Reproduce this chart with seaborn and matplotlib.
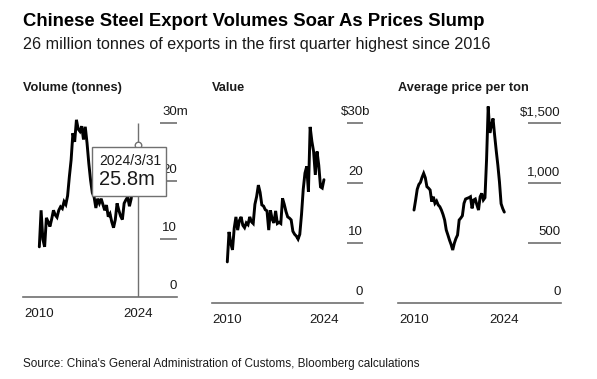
"""
Chinese steel exports - volume, value and average price per ton (quarterly).
"""
import matplotlib
matplotlib.use("Agg")
import matplotlib.pyplot as plt
import matplotlib.transforms as mtransforms
from matplotlib.patches import Rectangle
import pandas as pd
import seaborn as sns

# ── Data (quarterly 2010Q1 - 2024Q1) ─────────────────────────────────
QUARTERS = pd.period_range("2010Q1", "2024Q1", freq="Q")

VOLUME_M = [
    8.7, 15.0, 10.0, 8.7, 13.7, 13.0, 12.2, 13.5, 15.0, 14.2,
    13.8, 15.0, 15.6, 15.3, 16.5, 16.0, 17.5, 20.8, 23.7, 28.3,
    26.8, 30.6, 29.0, 28.6, 29.5, 27.2, 29.4, 26.6, 23.1, 20.2,
    18.0, 17.3, 15.4, 17.0, 16.2, 17.0, 16.0, 15.0, 15.9, 13.9,
    14.4, 13.0, 12.0, 13.4, 16.2, 15.0, 14.0, 13.4, 16.2, 16.8,
    17.3, 15.7, 17.0, 20.3, 23.8, 24.3, 25.8,
]

VALUE_B = [
    6.9, 11.9, 10.0, 8.9, 12.5, 14.4, 12.2, 13.8, 14.4, 13.0,
    12.6, 13.4, 13.1, 14.4, 13.6, 13.3, 16.5, 17.8, 19.7, 18.5,
    16.4, 16.2, 15.6, 15.4, 12.2, 15.5, 14.0, 13.4, 15.4, 13.3,
    13.5, 13.3, 17.5, 16.5, 15.3, 14.4, 14.2, 13.9, 12.0, 11.5,
    11.2, 10.7, 11.5, 14.8, 19.0, 21.7, 22.8, 18.6, 29.4, 27.0,
    25.3, 21.4, 25.3, 23.0, 19.4, 19.2, 20.6,
]

PRICE_USD = [
    777, 860, 950, 990, 1008, 1050, 1083, 1047, 972, 960,
    944, 847, 888, 833, 852, 820, 805, 777, 740, 694,
    611, 570, 527, 490, 444, 500, 540, 569, 694, 710,
    730, 833, 869, 875, 880, 888, 791, 861, 869, 820,
    777, 888, 916, 861, 880, 1200, 1640, 1420, 1480, 1540,
    1400, 1270, 1150, 1010, 830, 790, 760,
]

PANEL_TITLES = ["Volume (tonnes)", "Value", "Average price per ton"]
Y_TICKS = [[0, 10, 20, 30], [0, 10, 20, 30], [0, 500, 1000, 1500]]
Y_LABELS = [["0", "10", "20", "30m"], ["0", "10", "20", "$30b"],
            ["0", "500", "1,000", "$1,500"]]
X_TICKS = [2010, 2024]

TITLE = "Chinese Steel Export Volumes Soar As Prices Slump"
SUBTITLE = "26 million tonnes of exports in the first quarter highest since 2016"
SOURCE = "Source: China's General Administration of Customs, Bloomberg calculations"

# ── Layout (pixels of the 597x379 canvas) ──────────────────────────
W, H = 597, 379
GREY = "#707070"
TEXT = "#1a1a1a"

# left, right, bottom, top, ylim, xlim, tick-line start (axes frac),
# overhang of the unit suffix past the axis end (points)
PANELS = [
    (23, 177, 297.3, 111.7, (0, 32), (2007.69, 2029.48), 0.89, 7.9),
    (211.7, 363.3, 303.3, 111.3, (0, 32), (2007.74, 2029.70), 0.89, 5.3),
    (398, 560.7, 303.3, 99.3, (0, 1700), (2007.52, 2032.74), 0.797, 0),
]

sns.set_style("white")
plt.rcParams["font.family"] = ["Liberation Sans", "DejaVu Sans"]

df = pd.DataFrame({
    "year": [q.year + (q.quarter - 1) / 4 for q in QUARTERS],
    "volume": VOLUME_M,
    "value": VALUE_B,
    "price": PRICE_USD,
})
columns = ["volume", "value", "price"]

fig = plt.figure(figsize=(W / 100, H / 100), dpi=100)

axes = []
for i, (left, right, bottom, top, ylim, xlim, tick_x0, overhang) in enumerate(PANELS):
    ax = fig.add_axes([left / W, 1 - bottom / H, (right - left) / W, (bottom - top) / H])
    ax.patch.set_alpha(0)
    sns.lineplot(data=df, x="year", y=columns[i], ax=ax, color="black",
                 linewidth=2.1, solid_joinstyle="miter")
    ax.set_xlim(*xlim)
    ax.set_ylim(*ylim)
    ax.set_xlabel("")
    ax.set_ylabel("")

    for side in ["top", "left", "right"]:
        ax.spines[side].set_visible(False)
    ax.spines["bottom"].set_color(GREY)
    ax.spines["bottom"].set_linewidth(1.2)

    ax.set_xticks(X_TICKS)
    ax.set_xticklabels([str(t) for t in X_TICKS])
    ax.tick_params(axis="x", direction="out", length=3.5, width=1.0, color=GREY,
                   pad=4, labelsize=9.5, labelcolor=TEXT)
    ax.set_yticks([])

    # bloomberg style y ticks: short lines on the right, labels above them
    trans = mtransforms.blended_transform_factory(ax.transAxes, ax.transData)
    for val, lab in zip(Y_TICKS[i], Y_LABELS[i]):
        if val != 0:
            ax.plot([tick_x0, 1.0], [val, val], transform=trans, color=GREY,
                    lw=1.2, clip_on=False, solid_capstyle="butt")
        shift = overhang if val == Y_TICKS[i][-1] else 0
        ax.annotate(lab, xy=(1.0, val), xycoords=trans, xytext=(shift, 3.5),
                    textcoords="offset points", ha="right", va="bottom",
                    fontsize=9.5, color=TEXT)

    fig.text(left / W, 1 - 88 / H, PANEL_TITLES[i], fontsize=9.2,
             fontweight="bold", color=TEXT, va="center", ha="left")
    axes.append(ax)

# ── Crosshair + tooltip on the volume panel ────────────────────────
ax = axes[0]
last_x = df["year"].iloc[-1]
last_v = df["volume"].iloc[-1]
ax.vlines(last_x, 0, Y_TICKS[0][-1], color=GREY, lw=1.0, zorder=1)
ax.scatter([last_x], [last_v + 0.5], s=22, facecolor="white", edgecolor=GREY,
           linewidth=1.0, zorder=9)
ax.add_patch(Rectangle((0.446, 0.546), 0.485, 0.265, transform=ax.transAxes,
                       facecolor="white", edgecolor=GREY, lw=1.0,
                       zorder=10, clip_on=False))
end_date = QUARTERS[-1].end_time
ax.text(0.494, 0.736, f"{end_date.year}/{end_date.month}/{end_date.day}",
        transform=ax.transAxes, fontsize=10, color=TEXT, va="center",
        ha="left", zorder=11)
ax.text(0.494, 0.637, f"{last_v:.1f}m", transform=ax.transAxes, fontsize=14.5,
        color=TEXT, va="center", ha="left", zorder=11)

# ── Titles and source ──────────────────────────────────────────────
fig.text(23 / W, 1 - 21 / H, TITLE, fontsize=13.3, fontweight="bold",
         color="black", va="center", ha="left")
fig.text(23 / W, 1 - 45 / H, SUBTITLE, fontsize=11.6, color=TEXT,
         va="center", ha="left")
fig.text(23 / W, 1 - 364 / H, SOURCE, fontsize=8.45, color=TEXT,
         va="center", ha="left")

fig.savefig("out.png", dpi=100, facecolor="white")
